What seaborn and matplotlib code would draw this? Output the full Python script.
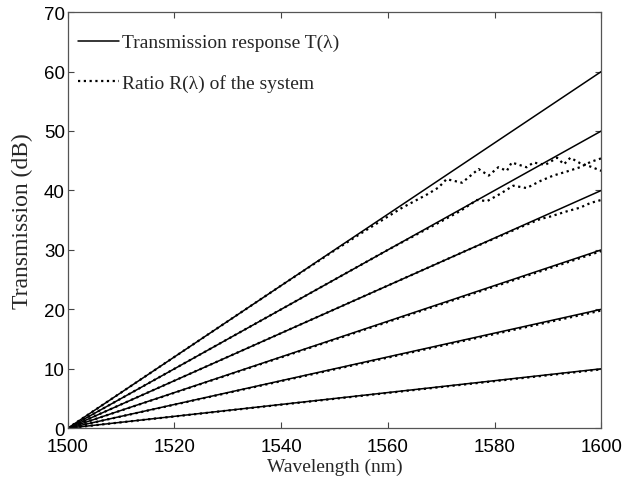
import numpy as np
import pandas as pd
import matplotlib
matplotlib.use("Agg")
import matplotlib.pyplot as plt
import seaborn as sns

# Solid lines: transmission response T(lambda), straight from 0 dB at 1500 nm
wl_solid = [1500, 1600]
t_end = [10, 20, 30, 40, 50, 60]

# Dotted lines: ratio R(lambda)
wl_r10 = [1500, 1550, 1600]
r10 = [0, 4.95, 9.9]
wl_r20 = [1500, 1550, 1600]
r20 = [0, 9.9, 19.8]
wl_r30 = [1500, 1550, 1600]
r30 = [0, 14.9, 29.8]
wl_r40 = [1500, 1520, 1540, 1560, 1575, 1581, 1584.8, 1588.6, 1590.4, 1593.6, 1596, 1598, 1600]
r40 = [0, 8, 16, 24, 30, 32.3, 33.8, 35.2, 35.6, 36.5, 37.1, 37.9, 38.4]
wl_r50 = [1500, 1520, 1540, 1560, 1565, 1570, 1573.5, 1576.7, 1578.6, 1581, 1583.5,
          1586, 1588.6, 1591, 1593.6, 1596, 1598, 1600]
r50 = [0, 10, 20, 30, 32.4, 34.8, 36.5, 38.4, 38.2, 39.4, 40.8,
       40.4, 41.6, 42.5, 43.2, 43.9, 44.8, 45.4]
wl_r60 = [1500, 1520, 1540, 1550, 1555, 1560, 1562.5, 1565, 1567.5, 1569.5, 1571, 1573.9,
          1577, 1578.9, 1580.7, 1582.3, 1583.2, 1586, 1587.3, 1589.5, 1591.7, 1593, 1594.2,
          1596, 1598, 1600]
r60 = [0, 12, 24, 29.9, 32.8, 35.6, 37.0, 38.2, 39.4, 40.5, 41.9, 41.3,
       43.6, 42.5, 43.9, 43.3, 44.7, 43.9, 44.7, 44.3, 45.5, 44.4, 45.5,
       44.6, 44.0, 43.3]

x_ticks = [1500, 1520, 1540, 1560, 1580, 1600]
y_ticks = [0, 10, 20, 30, 40, 50, 60, 70]

sns.set_style("ticks")
plt.rcParams['font.family'] = ['Liberation Sans', 'DejaVu Sans']
serif = ['Liberation Serif', 'DejaVu Serif']

fig = plt.figure(figsize=(6.39, 4.85), dpi=100)
ax = fig.add_axes([0.106, 0.115, 0.835, 0.858])

dotted = (0, (1.0, 1.6))
ratio_sets = [(wl_r10, r10), (wl_r20, r20), (wl_r30, r30),
              (wl_r40, r40), (wl_r50, r50), (wl_r60, r60)]

for i, te in enumerate(t_end):
    sns.lineplot(x=wl_solid, y=[0, te], ax=ax, color='black', linewidth=1.1,
                 label='Transmission response T(λ)' if i == 0 else None)
for i, (wl, r) in enumerate(ratio_sets):
    sns.lineplot(x=wl, y=r, ax=ax, color='black', linewidth=1.6, linestyle=dotted,
                 label='Ratio R(λ) of the system' if i == 0 else None)

ax.set_xlim(1500, 1600)
ax.set_ylim(0, 70)
ax.set_xticks(x_ticks)
ax.set_yticks(y_ticks)
ax.tick_params(direction='in', length=4, width=0.8, colors='#444444',
               labelcolor='black', labelsize=13.5, top=True, right=True)
ax.tick_params(axis='x', pad=7)
ax.tick_params(axis='y', pad=2)
for sp in ax.spines.values():
    sp.set_color('#555555')
    sp.set_linewidth(0.9)

ax.set_xlabel('Wavelength (nm)', family=serif, fontsize=14, labelpad=2)
ax.set_ylabel('Transmission (dB)', family=serif, fontsize=17, labelpad=8)

leg = ax.legend(loc='upper left', bbox_to_anchor=(0.019, 0.948), frameon=False,
                prop={'family': serif, 'size': 14}, handlelength=2.1,
                handletextpad=0.15, labelspacing=1.15, borderpad=0, borderaxespad=0)

fig.savefig('out.png', dpi=100)
